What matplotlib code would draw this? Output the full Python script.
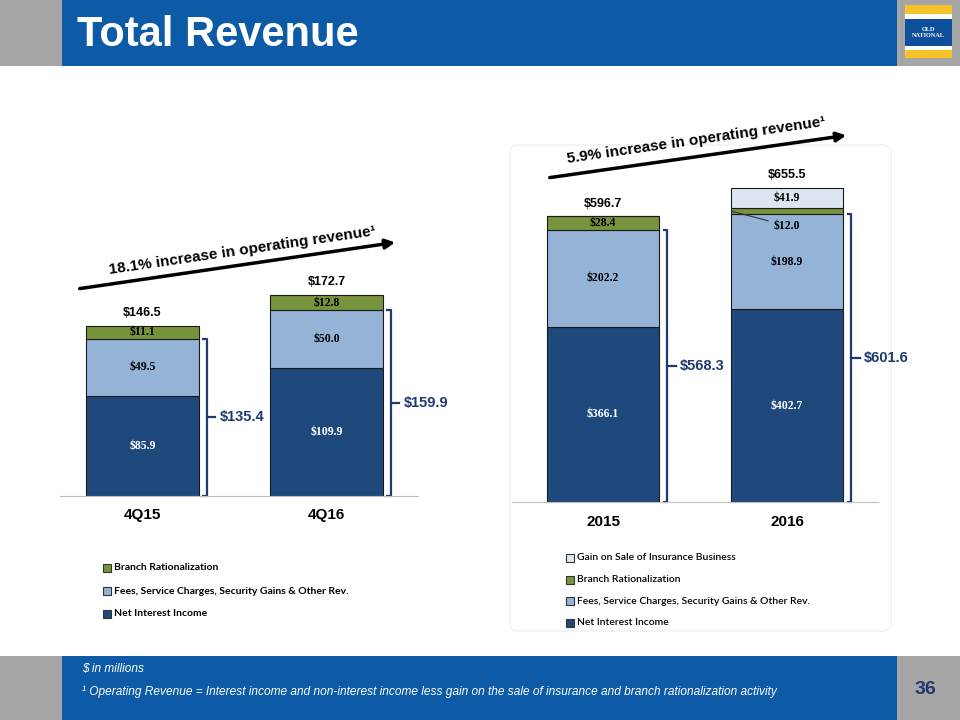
import matplotlib.pyplot as plt
from matplotlib.patches import Rectangle, FancyBboxPatch

# quarterly data ($ millions)
q_labels = ['4Q15', '4Q16']
q_nii = [85.9, 109.9]
q_fees = [49.5, 50.0]
q_branch = [11.1, 12.8]
q_total = [146.5, 172.7]
q_operating = [135.4, 159.9]

# annual data ($ millions)
y_labels = ['2015', '2016']
y_nii = [366.1, 402.7]
y_fees = [202.2, 198.9]
y_branch = [28.4, 12.0]
y_gain = [0.0, 41.9]
y_total = [596.7, 655.5]
y_operating = [568.3, 601.6]

NII_C = '#1F497D'
FEES_C = '#95B3D7'
BRANCH_C = '#77933C'
GAIN_C = '#DCE6F2'
NAVY = '#1F3A6E'
HEAD_BLUE = '#0D5BA6'
SIDE_GRAY = '#A6A6A6'

SANS = 'Liberation Sans'
SERIF = 'Liberation Serif'
LEG = 'Lato'

fig = plt.figure(figsize=(9.6, 7.2), dpi=100)
bg = fig.add_axes([0, 0, 1, 1])
bg.set_xlim(0, 960)
bg.set_ylim(720, 0)
bg.axis('off')

# header / footer bands
bg.add_patch(Rectangle((0, 0), 960, 66, color=SIDE_GRAY, lw=0))
bg.add_patch(Rectangle((62, 0), 835, 66, color=HEAD_BLUE, lw=0))
bg.add_patch(Rectangle((0, 656), 960, 64, color=SIDE_GRAY, lw=0))
bg.add_patch(Rectangle((62, 656), 835, 64, color=HEAD_BLUE, lw=0))
bg.text(77, 35, 'Total Revenue', color='white', fontsize=30, fontweight='bold',
        family=SANS, va='center', ha='left')

# logo
bg.add_patch(Rectangle((905, 5), 47, 53, color='#F5C227', lw=0))
bg.add_patch(Rectangle((905, 14), 47, 5, color='white', lw=0))
bg.add_patch(Rectangle((905, 19), 47, 27, color='#0D4F9A', lw=0))
bg.add_patch(Rectangle((905, 46), 47, 4, color='white', lw=0))
bg.text(928.5, 32.5, 'OLD\nNATIONAL', color='white', fontsize=4.5, fontweight='bold',
        family=SERIF, ha='center', va='center', linespacing=1.1)

# footer text
bg.text(82, 669, '$ in millions', color='white', fontsize=8.6, style='italic',
        family=SANS, va='center')
bg.text(82, 692, '¹ Operating Revenue = Interest income and non-interest income less gain '
        'on the sale of insurance and branch rationalization activity',
        color='white', fontsize=8.6, style='italic', family=SANS, va='center')
bg.text(925, 689, '36', color=NAVY, fontsize=14, fontweight='bold', family=SANS,
        ha='center', va='center')

# faint panel behind annual chart
bg.add_patch(FancyBboxPatch((510, 145), 381, 486, boxstyle='round,pad=0,rounding_size=8',
                            fc='white', ec='#F0F0F0', lw=1.0))

# growth arrows
bg.annotate('', xy=(398, 242), xytext=(77, 289),
            arrowprops=dict(arrowstyle='-|>', color='black', lw=2.5, mutation_scale=14))
bg.text(242, 251, '18.1% increase in operating revenue¹', rotation=8.3, fontsize=11,
        fontweight='bold', family=SANS, ha='center', va='center')
bg.annotate('', xy=(849, 135), xytext=(547, 178),
            arrowprops=dict(arrowstyle='-|>', color='black', lw=2.5, mutation_scale=14))
bg.text(696, 140, '5.9% increase in operating revenue¹', rotation=8.2, fontsize=11,
        fontweight='bold', family=SANS, ha='center', va='center')


def stacked(rect, xlim, ymax, labels, series, totals, operating):
    ax = fig.add_axes(rect)
    ax.set_xlim(*xlim)
    ax.set_ylim(0, ymax)
    ax.patch.set_alpha(0)
    for s in ['top', 'right', 'left']:
        ax.spines[s].set_visible(False)
    ax.spines['bottom'].set_color('#BFBFBF')
    ax.set_yticks([])
    x = list(range(len(labels)))
    ax.set_xticks(x)
    ax.set_xticklabels(labels, fontsize=11, fontweight='bold', family=SANS)
    ax.tick_params(axis='x', length=0, pad=9)

    bottom = [0.0] * len(labels)
    for vals, color, tcolor in series:
        ax.bar(x, vals, 0.61, bottom=bottom, color=color, edgecolor='#1A1A1A', lw=0.8)
        for i, v in enumerate(vals):
            if v <= 0:
                continue
            if color == BRANCH_C and v / ymax < 0.03:
                # small segment: label sits outside with a leader line
                ax.annotate(f'${v:.1f}', xy=(x[i] - 0.3, bottom[i] + v / 2),
                            xytext=(x[i], bottom[i] - 0.036 * ymax),
                            fontsize=8.5, fontweight='bold', family=SERIF,
                            ha='center', va='center',
                            arrowprops=dict(arrowstyle='-', color='#333333', lw=0.8,
                                            shrinkA=2, shrinkB=0))
            else:
                ax.text(x[i], bottom[i] + v / 2, f'${v:.1f}', color=tcolor,
                        fontsize=8.5, fontweight='bold', family=SERIF,
                        ha='center', va='center')
        bottom = [b + v for b, v in zip(bottom, vals)]

    for i, t in enumerate(totals):
        ax.annotate(f'${t:.1f}', xy=(x[i], t), xytext=(0, 5), textcoords='offset points',
                    fontsize=9, fontweight='bold', family=SANS, ha='center', va='bottom')

    # brackets around operating revenue
    for i, op in enumerate(operating):
        bx = x[i] + 0.35
        h = 0.025
        ax.plot([bx - h, bx, bx, bx - h], [0, 0, op, op], color=NAVY, lw=1.6,
                clip_on=False, solid_capstyle='butt')
        ax.plot([bx, bx + 0.045], [op / 2, op / 2], color=NAVY, lw=1.6, clip_on=False)
        ax.text(bx + 0.07, op / 2, f'${op:.1f}', color=NAVY, fontsize=10.5,
                fontweight='bold', family=SANS, ha='left', va='center')
    return ax


stacked([60 / 960, 1 - 496 / 720, 358 / 960, 266 / 720], (-0.448, 1.497), 266 / 1.163,
        q_labels,
        [(q_nii, NII_C, 'white'), (q_fees, FEES_C, 'black'), (q_branch, BRANCH_C, 'black')],
        q_total, q_operating)

stacked([512 / 960, 1 - 502 / 720, 366 / 960, 322 / 720], (-0.495, 1.495), 322 / 0.4785,
        y_labels,
        [(y_nii, NII_C, 'white'), (y_fees, FEES_C, 'black'), (y_branch, BRANCH_C, 'black'),
         (y_gain, GAIN_C, 'black')],
        y_total, y_operating)


# legends (drawn top to bottom, reverse of stacking)
def legend(x0, y0, step, items, weight, size):
    for k, (lab, col) in enumerate(items):
        y = y0 + k * step
        bg.add_patch(Rectangle((x0, y - 4), 8, 8, fc=col, ec='#333333', lw=0.8))
        bg.text(x0 + 11, y, lab, fontsize=size, fontweight=weight, family=LEG,
                va='center', ha='left')


legend(103, 568, 23, [('Branch Rationalization', BRANCH_C),
                      ('Fees, Service Charges, Security Gains & Other Rev.', FEES_C),
                      ('Net Interest Income', NII_C)], 'bold', 7.5)
legend(566, 558, 21.5, [('Gain on Sale of Insurance Business', GAIN_C),
                        ('Branch Rationalization', BRANCH_C),
                        ('Fees, Service Charges, Security Gains & Other Rev.', FEES_C),
                        ('Net Interest Income', NII_C)], 'semibold', 7.5)

fig.savefig('out.png', dpi=100)
